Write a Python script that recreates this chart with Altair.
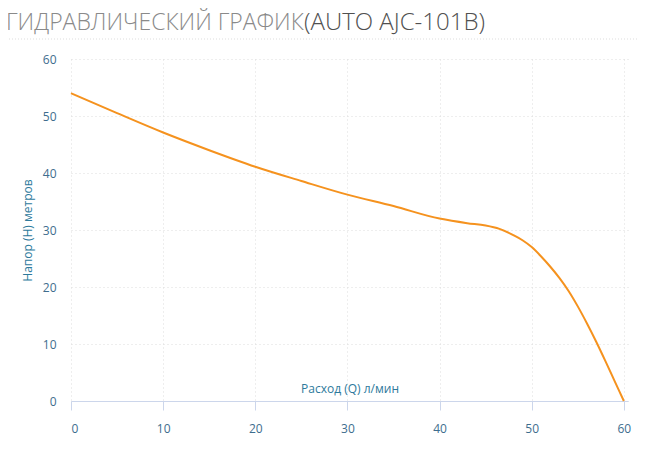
import altair as alt
import pandas as pd

flow = [0, 5, 10, 15, 20, 25, 30, 35, 40, 43, 45, 46.5, 48, 49, 50, 51, 52, 53, 54, 55, 56, 57, 58, 59, 60]
head = [54.0, 50.5, 47.1, 44.0, 41.1, 38.6, 36.2, 34.2, 32.0, 31.2, 30.8, 30.2, 29.1, 28.2, 27.0, 25.4, 23.6, 21.6, 19.3, 16.6, 13.6, 10.4, 7.0, 3.5, 0.0]
x_ticks = [0, 10, 20, 30, 40, 50, 60]
y_ticks = [0, 10, 20, 30, 40, 50, 60]

title_main = "ГИДРАВЛИЧЕСКИЙ ГРАФИК"
title_model = "(AUTO AJC-101B)"
x_title = "Расход (Q) л/мин"
y_title = "Напор (H) метров"

df = pd.DataFrame({"q": flow, "h": head})

axis_color = "#3e6d8e"
title_color = "#2e7a9c"
grid_style = dict(grid=True, gridColor="#dcdcdc", gridDash=[1, 3], gridWidth=1)

line = alt.Chart(df).mark_line(color="#f5921e", strokeWidth=2, interpolate="monotone").encode(
    x=alt.X("q:Q", scale=alt.Scale(domain=[0, 60.45], nice=False, zero=True),
            axis=alt.Axis(values=x_ticks, title=x_title, titleY=-18, titleColor=title_color,
                          titleFontSize=12, titleFontWeight="normal", titleFont="Open Sans",
                          domainColor="#ccd6eb", tickColor="#ccd6eb", tickSize=9,
                          labelPadding=13, labelColor=axis_color, labelFontSize=12,
                          labelFont="Open Sans", **grid_style)),
    y=alt.Y("h:Q", scale=alt.Scale(domain=[0, 60], nice=False),
            axis=alt.Axis(values=y_ticks, title=y_title, titleColor=title_color,
                          titleFontSize=12, titleFontWeight="normal", titleFont="Open Sans",
                          titlePadding=8,
                          domain=False, ticks=False, labelPadding=15, labelColor=axis_color,
                          labelFontSize=12, labelFont="Open Sans", **grid_style)),
)

t1 = alt.Chart(pd.DataFrame({"t": [title_main]})).mark_text(
    align="left", baseline="alphabetic", fontSize=23, font="Open Sans", fontWeight=300,
    color="#8a8a8a").encode(text="t:N", x=alt.value(-65), y=alt.value(-29))
t2 = alt.Chart(pd.DataFrame({"t": [title_model]})).mark_text(
    align="left", baseline="alphabetic", fontSize=24, font="Open Sans", fontWeight=300,
    color="#505050").encode(text="t:N", x=alt.value(233), y=alt.value(-29))

sep = alt.Chart(pd.DataFrame({"a": [0]})).mark_rule(color="#dddddd", strokeDash=[1, 2]).encode(
    x=alt.value(-65), x2=alt.value(567), y=alt.value(-20))

chart = alt.layer(line, t1, t2, sep).properties(
    width=557, height=342,
    autosize=alt.AutoSizeParams(type="none"),
    padding={"left": 63, "top": 51, "right": 21, "bottom": 41},
).configure_view(stroke=None)

chart.save("out.html", embed_options={"renderer": "svg", "actions": False})
